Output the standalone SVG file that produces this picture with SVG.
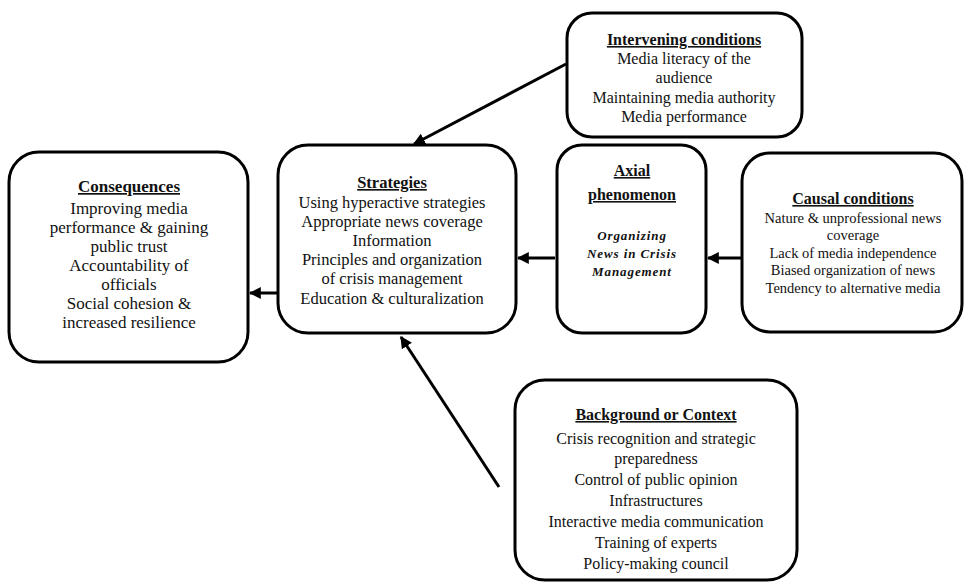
<svg xmlns="http://www.w3.org/2000/svg" width="965" height="585" viewBox="0 0 965 585">
<style>
.box{fill:#fff;stroke:#000;stroke-width:3}
.t{font-family:"Liberation Serif","Times New Roman",serif;text-anchor:middle;fill:#111}
.h{font-weight:bold;text-decoration:underline}
.i{font-size:13px;font-weight:bold;font-style:italic;letter-spacing:0.9px}
.c{stroke:#000;stroke-width:3;fill:none;marker-end:url(#ah)}
</style>
<defs>
<marker id="ah" viewBox="0 0 10 10" refX="9" refY="5" markerWidth="4" markerHeight="4" orient="auto" markerUnits="strokeWidth">
<path d="M0,0 L10,5 L0,10 z" fill="#000"/>
</marker>
</defs>
<rect width="965" height="585" fill="#fff"/>
<g id="connectors">
<line class="c" x1="566" y1="64" x2="414" y2="144"/>
<line class="c" x1="555" y1="258" x2="518" y2="258"/>
<line class="c" x1="741" y1="258" x2="708" y2="258"/>
<line class="c" x1="278" y1="293" x2="250" y2="293"/>
<line class="c" x1="499" y1="487" x2="401" y2="337"/>
</g>
<g id="consequences">
<rect class="box" x="9" y="152" width="239" height="210" rx="30"/>
<g class="t" font-size="17">
<text class="h" x="129" y="192">Consequences</text>
<text x="129" y="214">Improving media</text>
<text x="129" y="233">performance &amp; gaining</text>
<text x="129" y="252">public trust</text>
<text x="129" y="271">Accountability of</text>
<text x="129" y="290">officials</text>
<text x="129" y="309">Social cohesion &amp;</text>
<text x="129" y="328">increased resilience</text>
</g>
</g>
<g id="strategies">
<rect class="box" x="278" y="145" width="238" height="188" rx="30"/>
<g class="t" font-size="16.5">
<text class="h" x="392" y="188">Strategies</text>
<text x="392" y="208">Using hyperactive strategies</text>
<text x="392" y="227">Appropriate news coverage</text>
<text x="392" y="246">Information</text>
<text x="392" y="265">Principles and organization</text>
<text x="392" y="284">of crisis management</text>
<text x="392" y="304">Education &amp; culturalization</text>
</g>
</g>
<g id="axial">
<rect class="box" x="557" y="145" width="149" height="188" rx="25"/>
<g class="t">
<text class="h" x="632" y="176" font-size="16">Axial</text>
<text class="h" x="632" y="200" font-size="16">phenomenon</text>
<text class="i" x="632" y="240">Organizing</text>
<text class="i" x="632" y="258">News in Crisis</text>
<text class="i" x="632" y="276">Management</text>
</g>
</g>
<g id="causal">
<rect class="box" x="742" y="153" width="220" height="179" rx="28"/>
<g class="t" font-size="14.5">
<text class="h" x="853" y="204" font-size="16">Causal conditions</text>
<text x="853" y="223">Nature &amp; unprofessional news</text>
<text x="853" y="240">coverage</text>
<text x="853" y="258">Lack of media independence</text>
<text x="853" y="275">Biased organization of news</text>
<text x="853" y="293">Tendency to alternative media</text>
</g>
</g>
<g id="intervening">
<rect class="box" x="567" y="13" width="235" height="124" rx="25"/>
<g class="t" font-size="16">
<text class="h" x="684" y="45">Intervening conditions</text>
<text x="684" y="64">Media literacy of the</text>
<text x="684" y="83">audience</text>
<text x="684" y="103">Maintaining media authority</text>
<text x="684" y="122">Media performance</text>
</g>
</g>
<g id="background">
<rect class="box" x="515" y="380" width="282" height="200" rx="30"/>
<g class="t" font-size="16">
<text class="h" x="656" y="420">Background or Context</text>
<text x="656" y="444">Crisis recognition and strategic</text>
<text x="656" y="464">preparedness</text>
<text x="656" y="485">Control of public opinion</text>
<text x="656" y="506">Infrastructures</text>
<text x="656" y="527">Interactive media communication</text>
<text x="656" y="548">Training of experts</text>
<text x="656" y="569">Policy-making council</text>
</g>
</g>
</svg>
